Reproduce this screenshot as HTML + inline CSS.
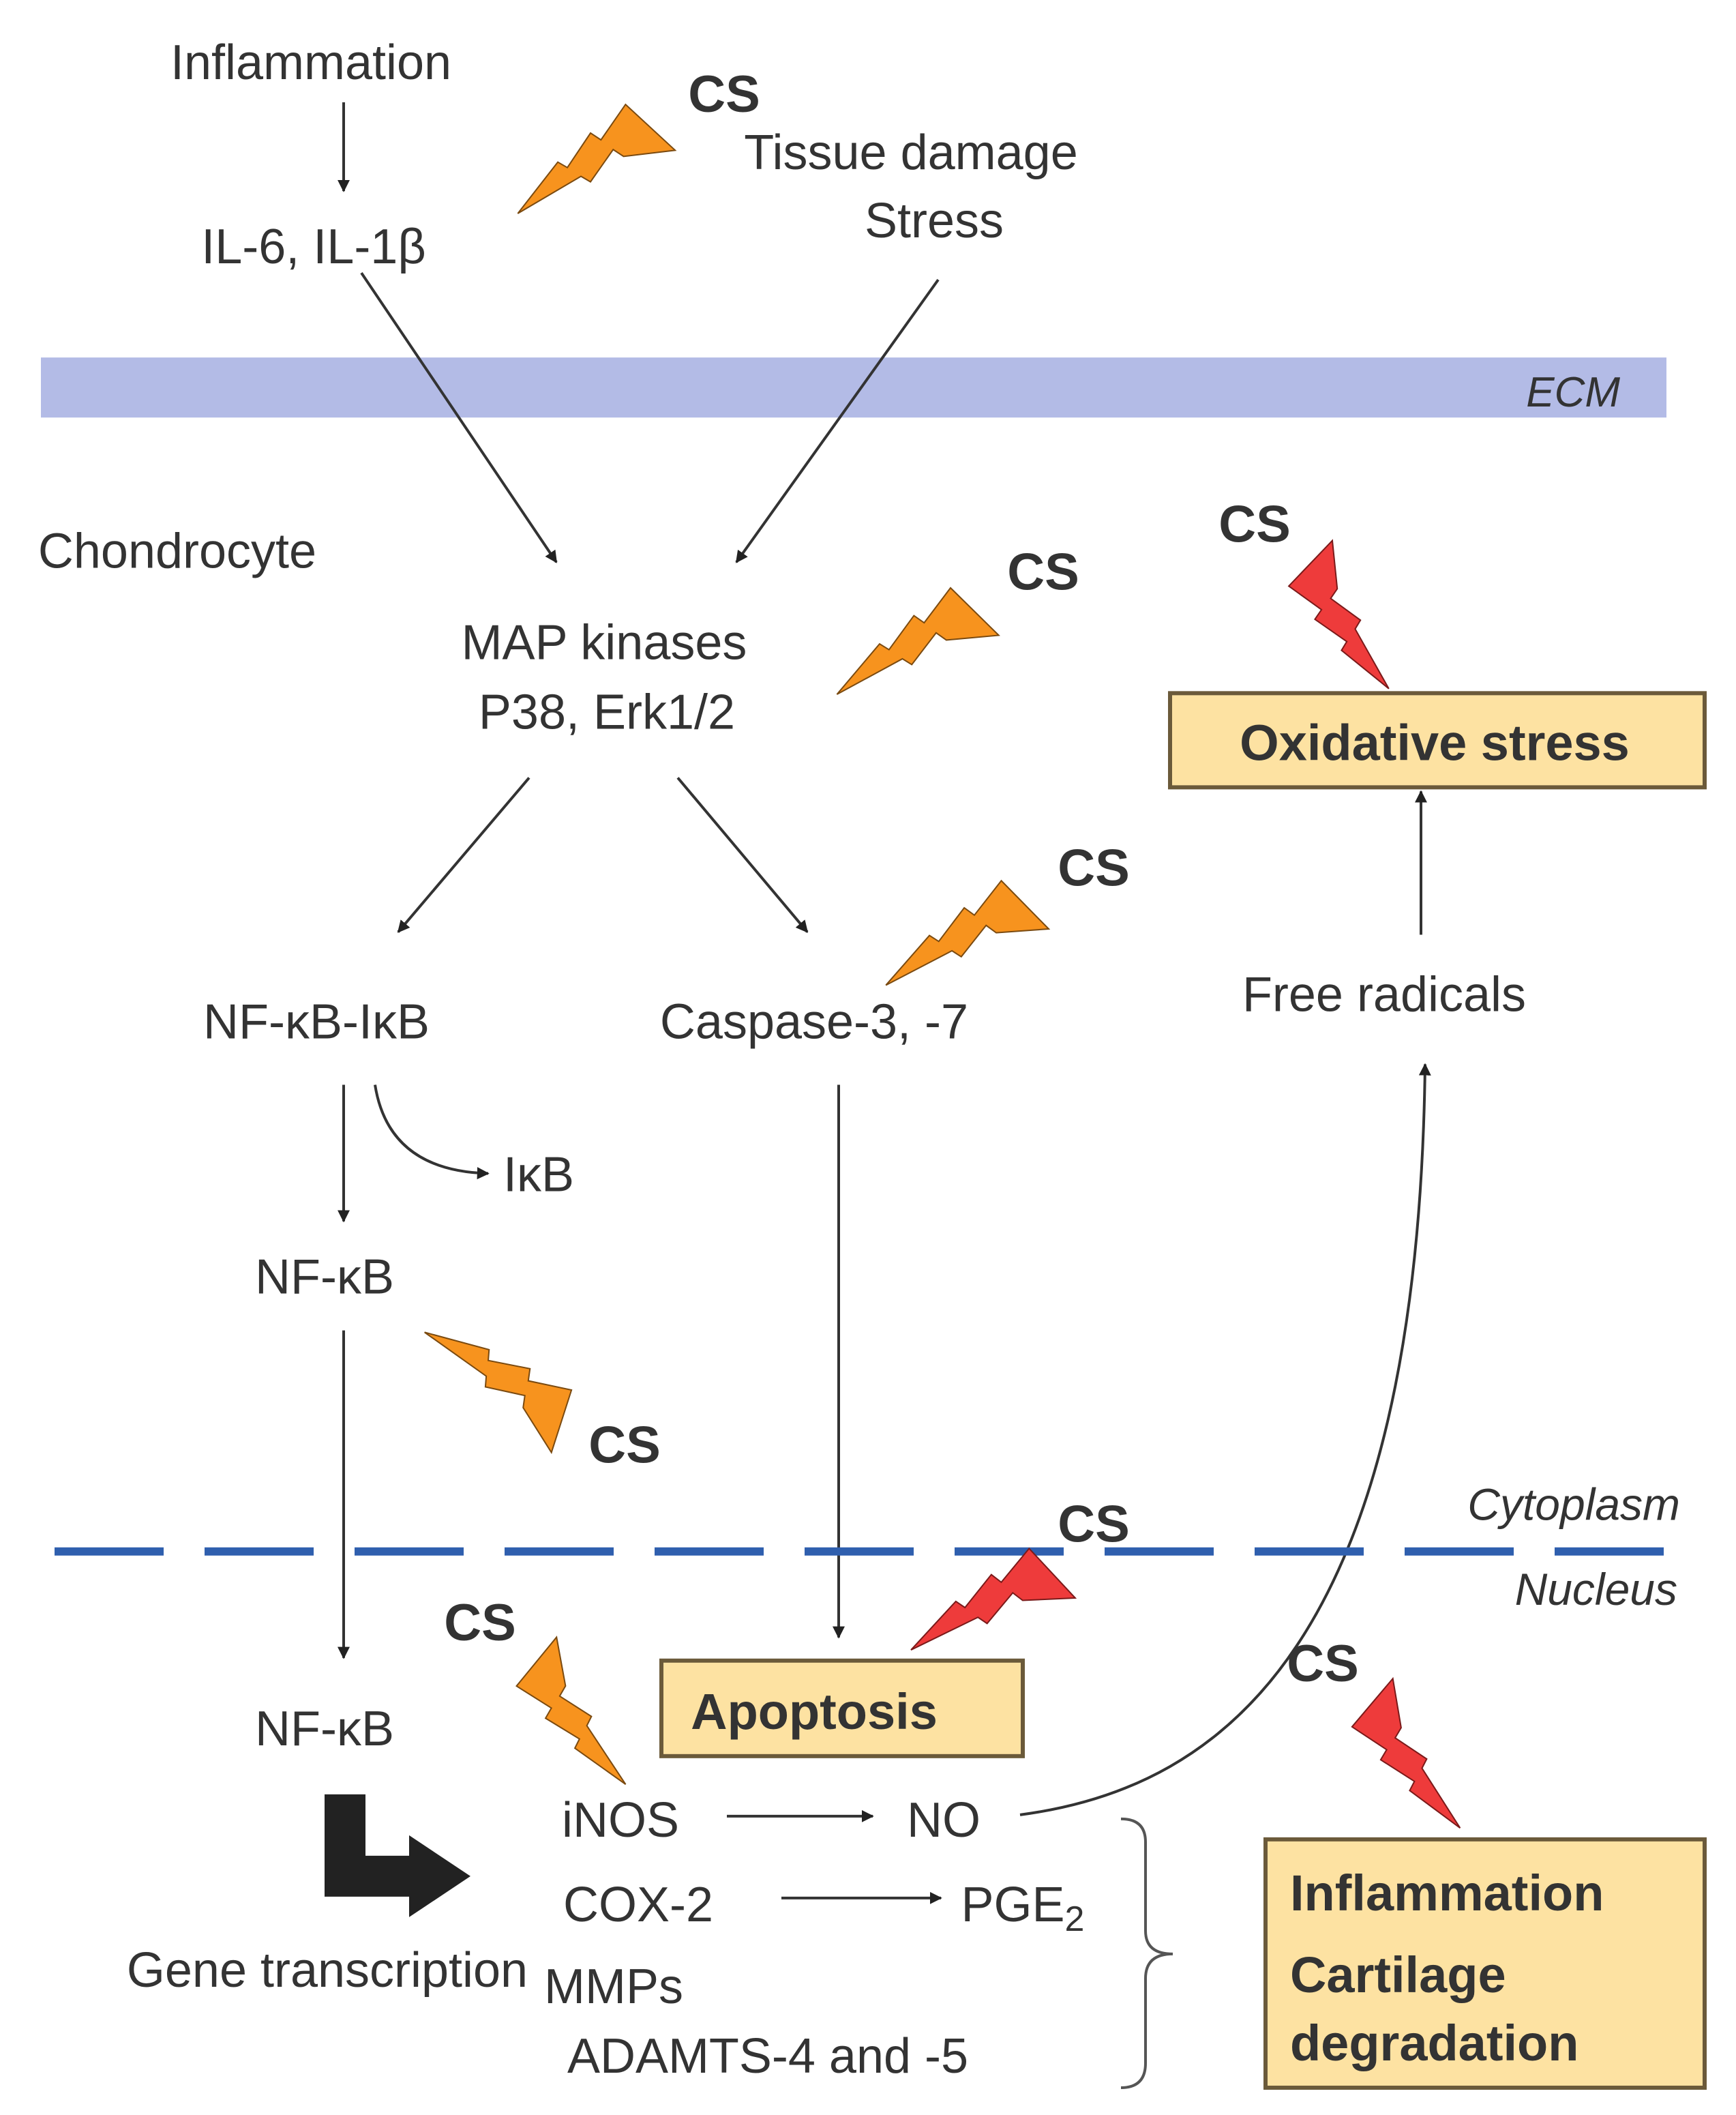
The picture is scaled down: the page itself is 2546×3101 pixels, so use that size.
<!DOCTYPE html>
<html><head><meta charset="utf-8"><style>
html,body{margin:0;padding:0;background:#fff;}
svg{display:block;}
text{font-family:"Liberation Sans",Arial,sans-serif;fill:#333;}
</style></head><body>
<svg width="2546" height="3101" viewBox="0 0 1273 1550" preserveAspectRatio="none" xmlns="http://www.w3.org/2000/svg">
<defs>
<marker id="a" viewBox="0 0 10 10" refX="9" refY="5" markerWidth="9" markerHeight="9" orient="auto" markerUnits="userSpaceOnUse"><path d="M0,0 L10,5 L0,10 Z" fill="#222"/></marker>
<polygon id="bolt" points="0,-0.4 0.1,0.4 0.34,0.2 0.37,0.34 0.6,0.14 0.63,0.26 1,0 0.56,-0.04 0.53,-0.16 0.31,0.02 0.28,-0.12" vector-effect="non-scaling-stroke"/>
</defs>
<rect width="1273" height="1550" fill="#fff"/>
<rect x="30" y="262" width="1192" height="44" fill="#b3bbe6"/>
<text x="1188" y="298" font-size="31" font-style="italic" text-anchor="end" fill="#2a3a6a">ECM</text>

<g font-size="36" text-anchor="middle">
<text x="228" y="58">Inflammation</text>
<text x="230" y="193">IL-6, IL-1β</text>
<text x="668" y="124">Tissue damage</text>
<text x="685" y="174">Stress</text>
<text x="130" y="416">Chondrocyte</text>
<text x="443" y="483">MAP kinases</text>
<text x="445" y="534">P38, Erk1/2</text>
<text x="1015" y="741">Free radicals</text>
<text x="232" y="761">NF-κB-IκB</text>
<text x="597" y="761">Caspase-3, -7</text>
<text x="395" y="873">IκB</text>
<text x="238" y="948">NF-κB</text>
<text x="238" y="1279">NF-κB</text>
<text x="240" y="1456">Gene transcription</text>
<text x="455" y="1346">iNOS</text>
<text x="692" y="1346">NO</text>
<text x="468" y="1408">COX-2</text>
<text x="750" y="1408">PGE<tspan font-size="26" dy="7">2</tspan></text>
<text x="450" y="1468">MMPs</text>
<text x="563" y="1519">ADAMTS-4 and -5</text>
</g>
<g font-size="33" font-style="italic" text-anchor="end" fill="#333">
<text x="1232" y="1114">Cytoplasm</text>
<text x="1230" y="1176">Nucleus</text>
</g>
<g font-size="38" font-weight="bold" fill="#111" text-anchor="middle">
<text x="531" y="82">CS</text>
<text x="765" y="432">CS</text>
<text x="920" y="397">CS</text>
<text x="802" y="649">CS</text>
<text x="458" y="1072">CS</text>
<text x="802" y="1130">CS</text>
<text x="352" y="1202">CS</text>
<text x="970" y="1232">CS</text>
</g>

<g stroke="#333" stroke-width="2" fill="none" marker-end="url(#a)">
<line x1="252" y1="75" x2="252" y2="140"/>
<line x1="265" y1="200" x2="408" y2="412"/>
<line x1="688" y1="205" x2="540" y2="412"/>
<line x1="388" y1="570" x2="292" y2="683"/>
<line x1="497" y1="570" x2="592" y2="683"/>
<line x1="1042" y1="685" x2="1042" y2="580"/>
<path d="M275,795 Q285,858 358,860"/>
<line x1="252" y1="795" x2="252" y2="895"/>
<line x1="252" y1="975" x2="252" y2="1215"/>
<line x1="615" y1="795" x2="615" y2="1200"/>
<line x1="533" y1="1331" x2="640" y2="1331"/>
<line x1="573" y1="1391" x2="690" y2="1391"/>
<path d="M748,1330 C900,1310 1040,1200 1045,780"/>
</g>
<path d="M822,1333 Q840,1333 840,1350 L840,1415 Q840,1432 860,1432 Q840,1432 840,1450 L840,1512 Q840,1530 822,1530" stroke="#555" stroke-width="2" fill="none"/>

<line x1="40" y1="1137" x2="1240" y2="1137" stroke="#2f5fae" stroke-width="6" stroke-dasharray="80,30"/>

<g fill="#fde2a2" stroke="#6b5a3a" stroke-width="3">
<rect x="858" y="508" width="392" height="69"/>
<rect x="485" y="1217" width="265" height="70"/>
<rect x="928" y="1348" width="322" height="182"/>
</g>
<g font-size="37" font-weight="bold" fill="#2a1a00">
<text x="1052" y="557" text-anchor="middle">Oxidative stress</text>
<text x="597" y="1267" text-anchor="middle">Apoptosis</text>
<text x="946" y="1400">Inflammation</text>
<text x="946" y="1460">Cartilage</text>
<text x="946" y="1510">degradation</text>
</g>

<path d="M238,1315 L268,1315 L268,1360 L300,1360 L300,1345 L345,1375 L300,1405 L300,1390 L238,1390 Z" fill="#222"/>

<g fill="#f7931e" stroke="#7a4a10" stroke-width="2">
<use href="#bolt" transform="translate(482,90) rotate(147) scale(122,60)"/>
<use href="#bolt" transform="translate(720,445) rotate(149) scale(124,60)"/>
<use href="#bolt" transform="translate(757,660) rotate(150) scale(124,60)"/>
<use href="#bolt" transform="translate(417,1045) rotate(213) scale(126,58)"/>
<use href="#bolt" transform="translate(390,1213) rotate(54) scale(117,56)"/>
</g>
<g fill="#ee3b3b" stroke="#7a1a1a" stroke-width="2">
<use href="#bolt" transform="translate(958,408) rotate(58) scale(114,56)"/>
<use href="#bolt" transform="translate(777,1150) rotate(151.5) scale(124,60)"/>
<use href="#bolt" transform="translate(1003,1243) rotate(55) scale(118,56)"/>
</g>
</svg>
</body></html>
